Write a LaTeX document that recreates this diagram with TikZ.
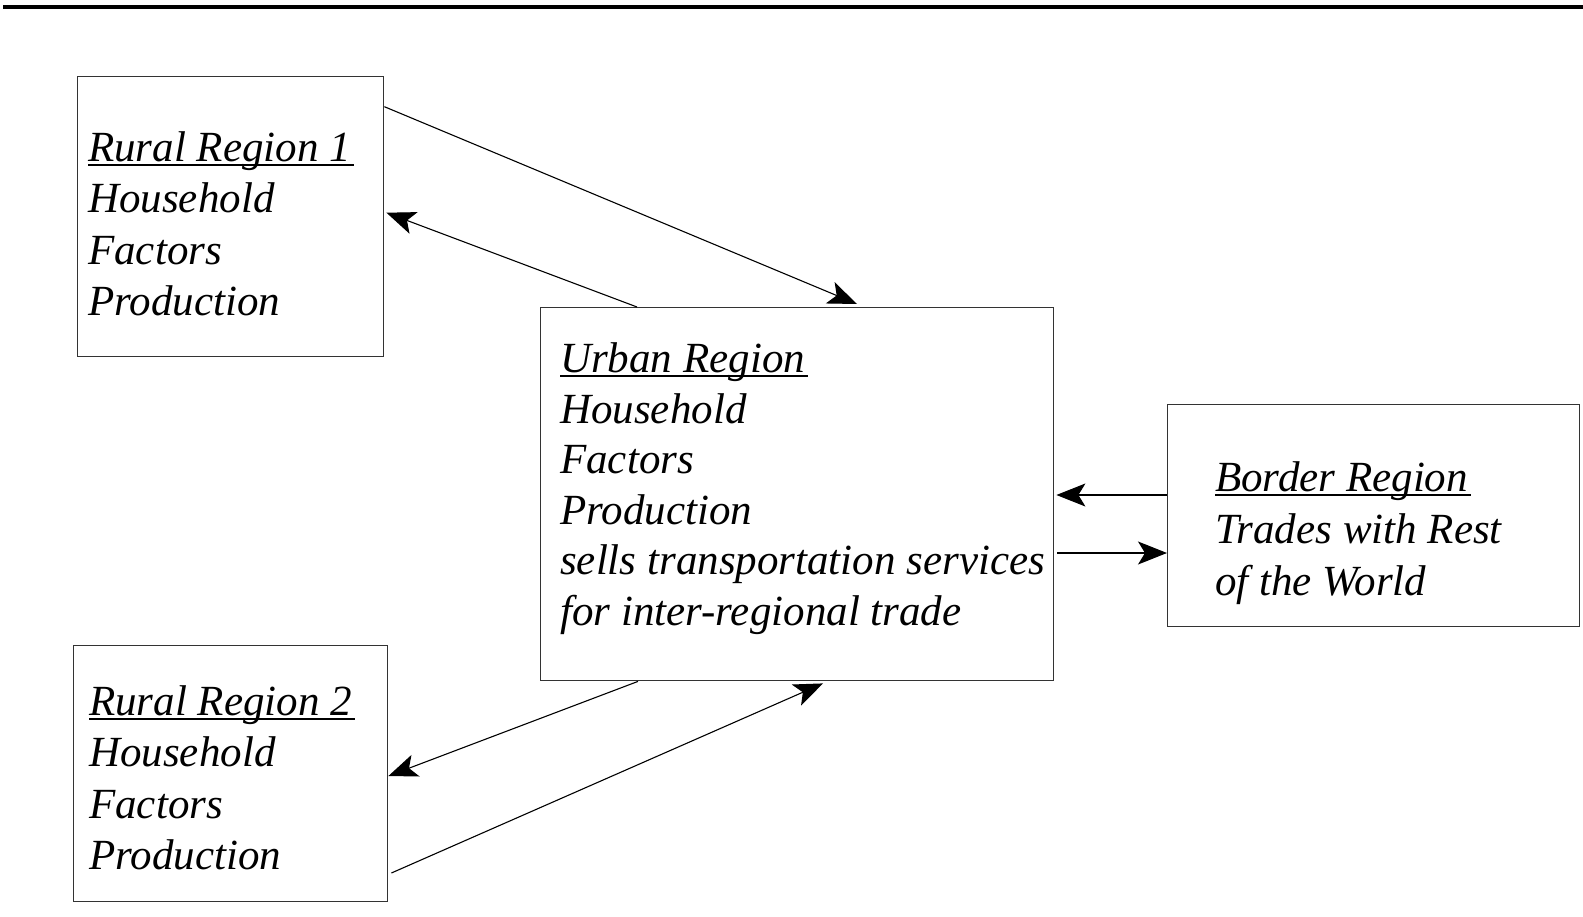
\documentclass[tikz,border=0pt]{standalone}
\usepackage{fontspec}
\setmainfont{Liberation Serif}
\usetikzlibrary{arrows.meta,calc}
\newcommand\myul[1]{\setbox0\hbox{#1}\rlap{\rule[-4.5pt]{\dimexpr\wd0+3pt\relax}{2pt}}\box0}
\newcommand\boxlines[2]{\fontsize{43}{#1}\selectfont\itshape\begin{tabular}[t]{@{}l@{}}#2\end{tabular}}
\begin{document}
\begin{tikzpicture}[x=1pt,y=-1pt,
  regionbox/.style={draw=black!80,line width=1.4pt,rectangle,inner sep=0pt,anchor=north west},
  txt/.style={anchor=base west,inner sep=0pt},
  arr/.style={line width=1.1pt,line join=miter,-{Stealth[length=29pt,width=23pt,inset=7pt]}}]
\useasboundingbox (0,0) rectangle (1583,917);
% top rule
\draw[line width=4pt] (3,7) -- (1583,7);
% boxes
\node[regionbox,minimum width=306pt,minimum height=280pt] (r1) at (77,76) {};
\node[regionbox,minimum width=314pt,minimum height=256pt] (r2) at (73,645) {};
\node[regionbox,minimum width=513pt,minimum height=373pt] (u) at (540,307) {};
\node[regionbox,minimum width=412pt,minimum height=222pt] (b) at (1167,404) {};
% texts
\node[txt] (t1) at (88,161.5) {\boxlines{51.5}{\myul{Rural Region 1}\\Household\\Factors\\Production}};
\node[txt] (t2) at (89,715) {\boxlines{51.5}{\myul{Rural Region 2}\\Household\\Factors\\Production}};
\node[txt] (tu) at (560,372.7) {\boxlines{50.5}{\myul{Urban Region}\\Household\\Factors\\Production\\sells transportation services\\for inter-regional trade}};
\node[txt] (tb) at (1215,491.7) {\boxlines{52}{\myul{Border Region}\\Trades with Rest\\of the World}};
% connectors
\draw[arr] ($(r1.north east)+(0,30.7)$) -- ($(u.north west)+(317,-3)$);
\draw[arr] ($(u.north west)+(97,0)$) -- ($(r1.east)+(2,-4)$);
\draw[arr] ($(u.south west)+(98,0)$) -- ($(r2.north east)+(0,131)$);
\draw[arr] ($(r2.north east)+(3,228)$) -- ($(u.south west)+(283,2)$);
\draw[arr] ($(b.north west)+(0,91)$) -- ($(u.north east)+(2,188)$);
\draw[arr] ($(u.north east)+(3,246)$) -- ($(b.north west)+(0,149)$);
\end{tikzpicture}
\end{document}
